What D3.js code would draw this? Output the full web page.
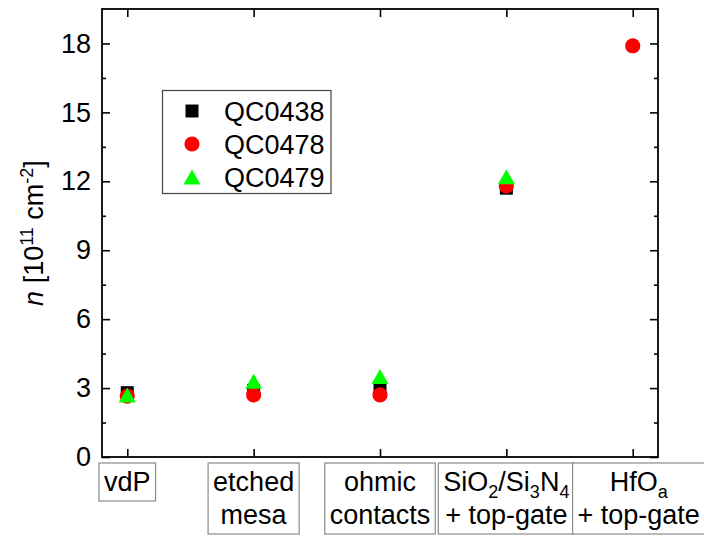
<!DOCTYPE html>
<html>
<head>
<meta charset="utf-8">
<script src="https://cdn.jsdelivr.net/npm/d3@7"></script>
<style>
  html, body { margin: 0; padding: 0; background: #fff; }
  svg { display: block; }
  text { font-family: Arial, "Liberation Sans", sans-serif; fill: #000; }
</style>
</head>
<body>
<script>
// ---- data ----------------------------------------------------------------
// process steps (x categories); each label is a list of lines, each line a
// list of [text, style] segments ("sub" = subscript)
const stepLabels = [
  [[["vdP"]]],
  [[["etched"]], [["mesa"]]],
  [[["ohmic"]], [["contacts"]]],
  [[["SiO"], ["2", "sub"], ["/Si"], ["3", "sub"], ["N"], ["4", "sub"]], [["+ top-gate"]]],
  [[["HfO"], ["a", "sub"]], [["+ top-gate"]]]
];
const seriesNames = ["QC0438", "QC0478", "QC0479"];
// carrier density n in units of 1e11 cm^-2 (null = not measured)
const qc0438 = [2.8, 2.9, 3.0, 11.7, null];
const qc0478 = [2.65, 2.7, 2.7, 11.8, 17.9];
const qc0479 = [2.7, 3.3, 3.5, 12.2, null];
const yMajorTicks = [0, 3, 6, 9, 12, 15, 18];
const yMinorTicks = [1.5, 4.5, 7.5, 10.5, 13.5, 16.5];

// ---- layout ----------------------------------------------------------------
const W = 704, H = 538;
const plot = { left: 102, right: 658, top: 9, bottom: 457 };
const FONT = 27, SMALL = 18;

const svg = d3.select("body").append("svg").attr("width", W).attr("height", H);
svg.append("rect").attr("width", W).attr("height", H).attr("fill", "#fff");

const x = d3.scaleLinear().domain([-0.2, 4.2]).range([plot.left, plot.right]);
const y = d3.scaleLinear().domain([0, 19.5]).range([plot.bottom, plot.top]);
const stepIdx = stepLabels.map((d, i) => i);

// ---- axes (ticks pointing inward on all four sides) ------------------------
function styleAxis(g) {
  g.select(".domain").remove();
  g.selectAll(".tick line").attr("stroke", "#000").attr("stroke-width", 1.6);
  g.selectAll(".tick text").style("font-size", FONT + "px").attr("font-family", null);
}
svg.append("g").attr("transform", `translate(${plot.left},0)`)
  .call(d3.axisLeft(y).tickValues(yMajorTicks).tickSize(-8).tickPadding(11).tickFormat(d3.format("d")))
  .call(styleAxis);
svg.append("g").attr("transform", `translate(${plot.left},0)`)
  .call(d3.axisLeft(y).tickValues(yMinorTicks).tickSize(-4).tickFormat(""))
  .call(styleAxis);
svg.append("g").attr("transform", `translate(${plot.right},0)`)
  .call(d3.axisRight(y).tickValues(yMajorTicks).tickSize(-8).tickFormat(""))
  .call(styleAxis);
svg.append("g").attr("transform", `translate(${plot.right},0)`)
  .call(d3.axisRight(y).tickValues(yMinorTicks).tickSize(-4).tickFormat(""))
  .call(styleAxis);
svg.append("g").attr("transform", `translate(0,${plot.bottom})`)
  .call(d3.axisBottom(x).tickValues(stepIdx).tickSize(-8).tickFormat(""))
  .call(styleAxis);
svg.append("g").attr("transform", `translate(0,${plot.top})`)
  .call(d3.axisTop(x).tickValues(stepIdx).tickSize(-8).tickFormat(""))
  .call(styleAxis);

// plot frame
svg.append("rect")
  .attr("x", plot.left).attr("y", plot.top)
  .attr("width", plot.right - plot.left).attr("height", plot.bottom - plot.top)
  .attr("fill", "none").attr("stroke", "#000").attr("stroke-width", 1.8);

// ---- y-axis title: n [10^11 cm^-2] -------------------------------------------
const ylab = svg.append("text")
  .attr("transform", `translate(43,${(plot.top + plot.bottom) / 2}) rotate(-90)`)
  .attr("text-anchor", "middle")
  .style("font-size", FONT + "px");
ylab.append("tspan").style("font-style", "italic").text("n");
ylab.append("tspan").text(" [10");
ylab.append("tspan").attr("dy", -10).style("font-size", SMALL + "px").text("11");
ylab.append("tspan").attr("dy", 10).text(" cm");
ylab.append("tspan").attr("dy", -10).style("font-size", SMALL + "px").text("-2");
ylab.append("tspan").attr("dy", 10).text("]");

// ---- boxed category labels under the x axis --------------------------------
const lineGap = 33, firstBase = 491, padX = 5;
const labelShift = [0, 0, 0, 0, 6];
stepLabels.forEach((lines, i) => {
  const g = svg.append("g");
  const cx = x(i) + labelShift[i];
  const t = g.append("text").attr("text-anchor", "middle").style("font-size", FONT + "px");
  lines.forEach((segs, li) => {
    const ln = t.append("tspan").attr("x", cx).attr("y", firstBase + li * lineGap);
    let shifted = false;
    segs.forEach(([txt, kind]) => {
      const s = ln.append("tspan").text(txt);
      if (kind === "sub") {
        s.style("font-size", SMALL + "px");
        if (!shifted) { s.attr("dy", 7); shifted = true; }
      } else if (shifted) {
        s.attr("dy", -7); shifted = false;
      }
    });
  });
  const bb = t.node().getBBox();
  const top = firstBase - 28;
  const bottom = firstBase + (lines.length - 1) * lineGap + 10;
  g.insert("rect", "text")
    .attr("x", bb.x - padX).attr("y", top)
    .attr("width", bb.width + 2 * padX).attr("height", bottom - top)
    .attr("fill", "#fff").attr("stroke", "#8a8a8a").attr("stroke-width", 1.2);
});

// ---- markers ------------------------------------------------------------------
// triangle centred on its bounding box, 17 px wide, 15 px high
const boxTriangle = {
  draw(ctx) {
    ctx.moveTo(0, -7.5);
    ctx.lineTo(8.5, 7.5);
    ctx.lineTo(-8.5, 7.5);
    ctx.closePath();
  }
};
const series = [
  { name: seriesNames[0], values: qc0438, color: "#000000", path: d3.symbol(d3.symbolSquare, 169)() },
  { name: seriesNames[1], values: qc0478, color: "#ff0000", path: d3.symbol(d3.symbolCircle, Math.PI * 7.6 * 7.6)() },
  { name: seriesNames[2], values: qc0479, color: "#00ff00", path: d3.symbol(boxTriangle)() }
];
series.forEach(s => {
  svg.append("g").selectAll("path")
    .data(s.values.map((v, i) => ({ i, v })).filter(d => d.v != null))
    .join("path")
    .attr("d", s.path)
    .attr("fill", s.color)
    .attr("transform", d => `translate(${x(d.i)},${y(d.v)})`);
});

// ---- legend ------------------------------------------------------------------
const leg = svg.append("g");
leg.append("rect").attr("x", 162.5).attr("y", 90.5).attr("width", 168.5).attr("height", 103)
  .attr("fill", "#fff").attr("stroke", "#444").attr("stroke-width", 1.2);
series.forEach((s, k) => {
  const cy = 111 + k * 33;
  leg.append("path").attr("d", s.path).attr("fill", s.color)
    .attr("transform", `translate(192,${cy})`);
  leg.append("text").attr("x", 224).attr("y", cy + 9.5)
    .style("font-size", FONT + "px").text(s.name);
});
</script>
</body>
</html>
